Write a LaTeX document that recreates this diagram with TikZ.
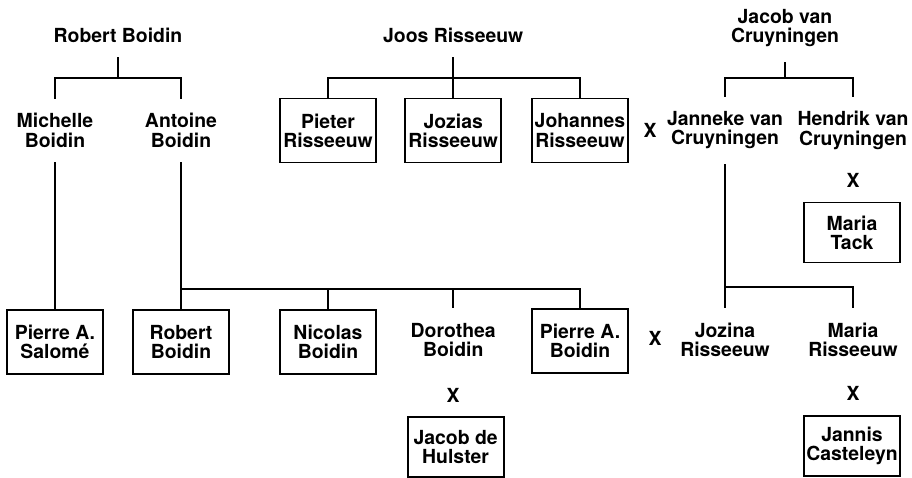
\documentclass[tikz,border=0pt]{standalone}
\usepackage{fontspec}
\setmainfont{TeX Gyre Heros}
\usepackage{tikz}

\begin{document}
\begin{tikzpicture}[line width=1.3pt,
        person/.style={font=\bfseries\fontsize{13.8}{13.6}\selectfont, align=center, inner ysep=10pt},
        personbox/.style={person, draw, minimum width=2.4cm, minimum height=1.6cm, inner xsep=1pt, inner ysep=2pt},
        shortbox/.style={personbox, minimum height=1.5cm},
        wed/.style={font=\bfseries\fontsize{13.8}{13.6}\selectfont}]
        \useasboundingbox (0,0) rectangle (22.8,11.95);

        \node[person] (robertsr) at (2.95,11.075) {Robert Boidin};
        \node[person] (joos) at (11.33,11.075) {Joos Risseeuw};
        \node[person] (jacob) at (19.625,11.24) {Jacob van\\Cruyningen};

        \node[person] (michelle) at (1.375,8.69) {Michelle\\Boidin};
        \node[person] (antoine) at (4.525,8.69) {Antoine\\Boidin};
        \node[personbox] (pieter) at (8.2,8.6875) {Pieter\\Risseeuw};
        \node[personbox] (jozias) at (11.33,8.6875) {Jozias\\Risseeuw};
        \node[personbox] (johannes) at (14.5,8.6875) {Johannes\\Risseeuw};
        \node[wed] (x1) at (16.25,8.7) {X};
        \node[person] (janneke) at (18.125,8.69) {Janneke van\\Cruyningen};
        \node[person] (hendrik) at (21.325,8.69) {Hendrik van\\Cruyningen};
        \node[wed] (x2) at (21.325,7.45) {X};
        \node[shortbox] (mariatack) at (21.3,6.1375) {Maria\\Tack};

        \node[personbox] (salome) at (1.375,3.4) {Pierre A.\\Salomé};
        \node[personbox] (robertjr) at (4.525,3.4) {Robert\\Boidin};
        \node[personbox] (nicolas) at (8.2,3.4) {Nicolas\\Boidin};
        \node[person] (dorothea) at (11.33,3.46) {Dorothea\\Boidin};
        \node[personbox] (pierreb) at (14.5,3.42) {Pierre A.\\Boidin};
        \node[wed] (x3) at (16.375,3.5) {X};
        \node[person] (jozina) at (18.125,3.46) {Jozina\\Risseeuw};
        \node[person] (mariar) at (21.325,3.46) {Maria\\Risseeuw};
        \node[wed] (x4) at (11.33,2.075) {X};
        \node[shortbox] (hulster) at (11.39,0.78) {Jacob de\\Hulster};
        \node[wed] (x5) at (21.325,2.125) {X};
        \node[shortbox] (jannis) at (21.3,0.8) {Jannis\\Casteleyn};

        \coordinate (top1) at (2.95,10);
        \coordinate (top2) at (11.33,10);
        \coordinate (top3) at (19.625,10);
        \coordinate (mid1) at (4.525,4.725);
        \coordinate (mid2) at (18.125,4.775);

        \draw (robertsr) -- (top1);
        \draw (michelle.north) |- (top1) -| (antoine.north);
        \draw (michelle) -- (salome);
        \draw (antoine) -- (robertjr);
        \draw (nicolas.north) |- (mid1);
        \draw (dorothea.north) |- (mid1);
        \draw (pierreb.north) |- (mid1);

        \draw (joos) -- (jozias);
        \draw (pieter.north) |- (top2) -| (johannes.north);

        \draw (jacob) -- (top3);
        \draw (janneke.north) |- (top3) -| (hendrik.north);
        \draw (janneke) -- (jozina);
        \draw (mariar.north) |- (mid2);
    \end{tikzpicture}
\end{document}
